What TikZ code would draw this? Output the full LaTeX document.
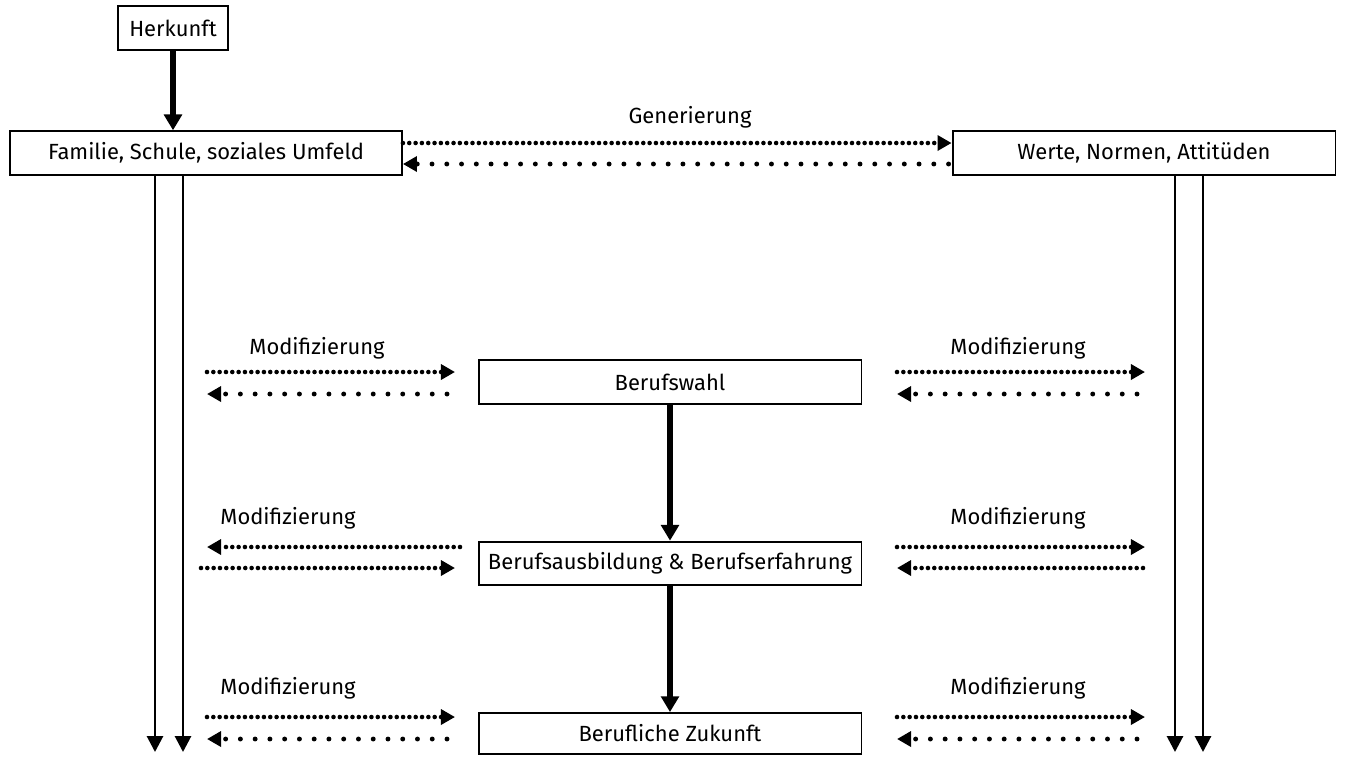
\documentclass[tikz,border=0pt]{standalone}
\usepackage{fontspec}
\setmainfont{Fira Sans}
\usetikzlibrary{arrows.meta, positioning}

\begin{document}
\begin{tikzpicture}[x=0.02cm,y=-0.02cm,font=\fontsize{12.5}{15}\selectfont]
 \tikzstyle{box}=[rectangle,draw=black,line width=1.1pt,
   minimum height=0.87cm,text centered,inner sep=0pt]
 \tikzstyle{thickarrow}=[line width=3.4pt,-{Triangle[length=9pt,width=10pt]}]
 \tikzstyle{thinarrow}=[line width=1.6pt,-{Triangle[length=9pt,width=9pt]}]
 \tikzstyle{densedots}=[line width=2.6pt,line cap=round,
   dash pattern=on 0pt off 3.6pt,-{Triangle[length=8pt,width=8.5pt]}]
 \tikzstyle{sparsedots}=[line width=2.8pt,line cap=round,
   dash pattern=on 0pt off 8.4pt,-{Triangle[length=8pt,width=8.5pt]}]
 \useasboundingbox (0,0) rectangle (1345,769);
 % upper part
 \node (her) [box,minimum width=2.2cm] at (173,28) {Herkunft};
 \node (fam) [box,minimum width=7.84cm] at (206,153)
   {Familie, Schule, soziales Umfeld};
 \node (wer) [box,minimum width=7.66cm] at (1144,153)
   {Werte, Normen, Attitüden};
 \node (gen) at (690,117) {Generierung};
 \draw[thickarrow] (her.south) -- (her.south |- fam.north);
 \draw[densedots] ([yshift=0.2cm]fam.east) -- ([yshift=0.2cm]wer.west);
 \draw[sparsedots] ([yshift=-0.22cm,xshift=-0.06cm]wer.west)
   -- ([yshift=-0.22cm]fam.east);
 % long arrows on both sides
 \coordinate (fl1) at (155,752);
 \coordinate (fl2) at (183,752);
 \coordinate (wr1) at (1175,752);
 \coordinate (wr2) at (1203,752);
 \draw[thinarrow] (fam.south -| fl1) -- (fl1);
 \draw[thinarrow] (fam.south -| fl2) -- (fl2);
 \draw[thinarrow] (wer.south -| wr1) -- (wr1);
 \draw[thinarrow] (wer.south -| wr2) -- (wr2);
 % middle column
 \node (wahl) [box,minimum width=7.66cm] at (670,382) {Berufswahl};
 \node (ausb) [box,minimum width=7.66cm,below=2.72cm of wahl]
   {Berufsausbildung \& Berufserfahrung};
 \node (zuk) [box,minimum width=7.66cm,minimum height=0.82cm,below=2.52cm of ausb]
   {Berufliche Zukunft};
 \draw[thickarrow] (wahl) -- (ausb);
 \draw[thickarrow] (ausb) -- (zuk);
 % end points of the modification arrows
 \foreach \r/\yt/\yb in {1/372/394,2/547/568,3/717/739}{
   \coordinate (lot\r) at (207,\yt); \coordinate (lit\r) at (455,\yt);
   \coordinate (lob\r) at (207,\yb); \coordinate (lib\r) at (447,\yb);
   \coordinate (rit\r) at (897,\yt); \coordinate (rot\r) at (1145,\yt);
   \coordinate (rib\r) at (897,\yb); \coordinate (rob\r) at (1137,\yb);
 }
 \node (mod1l) at (317,348) {Modifizierung};
 \node (mod1r) at (1018,348) {Modifizierung};
 \node (mod2l) at (288,518) {Modifizierung};
 \node (mod2r) at (1018,518) {Modifizierung};
 \node (mod3l) at (288,688) {Modifizierung};
 \node (mod3r) at (1018,688) {Modifizierung};
 \draw[densedots] (lot1) -- (lit1);
 \draw[sparsedots] (lib1) -- (lob1);
 \draw[densedots] (rit1) -- (rot1);
 \draw[sparsedots] (rob1) -- (rib1);
 \draw[densedots] ([xshift=0.1cm]lit2) -- (lot2);
 \draw[densedots] ([xshift=-0.12cm]lob2) -- (lib2 -| lit2);
 \draw[densedots] (rit2) -- (rot2);
 \draw[densedots] ([xshift=0.12cm]rob2) -- (rib2);
 \draw[densedots] (lot3) -- (lit3);
 \draw[sparsedots] (lib3) -- (lob3);
 \draw[densedots] (rit3) -- (rot3);
 \draw[sparsedots] (rob3) -- (rib3);
\end{tikzpicture}
\end{document}
